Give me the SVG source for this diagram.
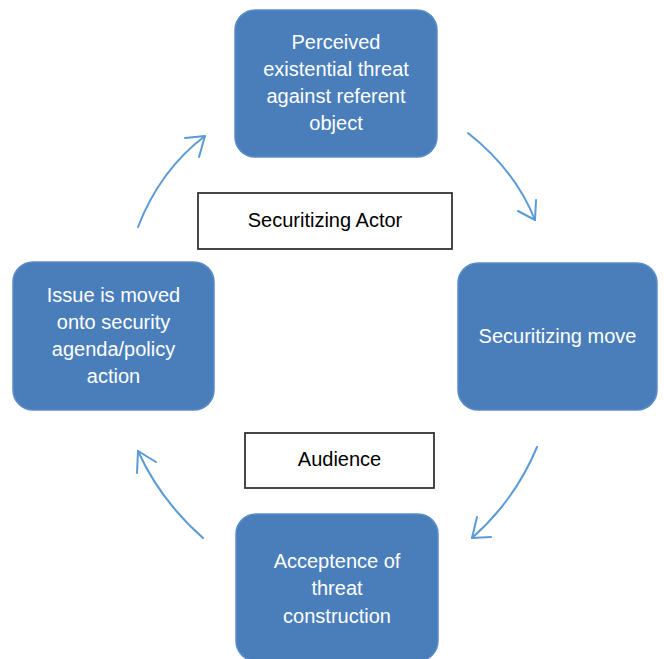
<svg xmlns="http://www.w3.org/2000/svg" width="664" height="659" viewBox="0 0 664 659">
<style>
.node rect{fill:#4a7ebb;stroke:#5b8cc8;stroke-width:1.5}
.node text{fill:#ffffff;font-family:"Liberation Sans",Arial,sans-serif;font-size:20px;text-anchor:middle}
.label rect{fill:#ffffff;stroke:#333333;stroke-width:1.8}
.label text{fill:#000000;font-family:"Liberation Sans",Arial,sans-serif;font-size:20px;text-anchor:middle}
.conn path{fill:none;stroke:#5b9bd5;stroke-width:2;stroke-linecap:round;stroke-linejoin:round}
</style>
<rect width="664" height="659" fill="#ffffff"/>
<g id="connectors" class="conn">
<path d="M468,133 Q515,170 535,220"/>
<path d="M518,211 L535,220 L536,200"/>
<path d="M537,447 Q515,500 472,538"/>
<path d="M477,517 L472,538 L491,537"/>
<path d="M203,538 Q160,500 138,451"/>
<path d="M137,473 L138,451 L156,462"/>
<path d="M138,227 Q160,170 205,136"/>
<path d="M185,138 L205,136 L199,157"/>
</g>
<g id="node-perceived" class="node">
<rect x="235" y="10" width="202" height="147" rx="20"/>
<text x="336" y="49">Perceived</text>
<text x="336" y="76">existential threat</text>
<text x="336" y="103">against referent</text>
<text x="336" y="130">object</text>
</g>
<g id="node-move" class="node">
<rect x="458" y="263" width="199" height="147" rx="20"/>
<text x="557.5" y="343">Securitizing move</text>
</g>
<g id="node-acceptance" class="node">
<rect x="236" y="514" width="202" height="147" rx="20"/>
<text x="337" y="568">Acceptence of</text>
<text x="337" y="595">threat</text>
<text x="337" y="623">construction</text>
</g>
<g id="node-issue" class="node">
<rect x="13" y="262" width="201" height="148" rx="20"/>
<text x="113.5" y="302">Issue is moved</text>
<text x="113.5" y="329">onto security</text>
<text x="113.5" y="356">agenda/policy</text>
<text x="113.5" y="383">action</text>
</g>
<g id="label-actor" class="label">
<rect x="198" y="193" width="254" height="56"/>
<text x="325" y="227">Securitizing Actor</text>
</g>
<g id="label-audience" class="label">
<rect x="245" y="433" width="189" height="55"/>
<text x="339.5" y="466">Audience</text>
</g>
</svg>
